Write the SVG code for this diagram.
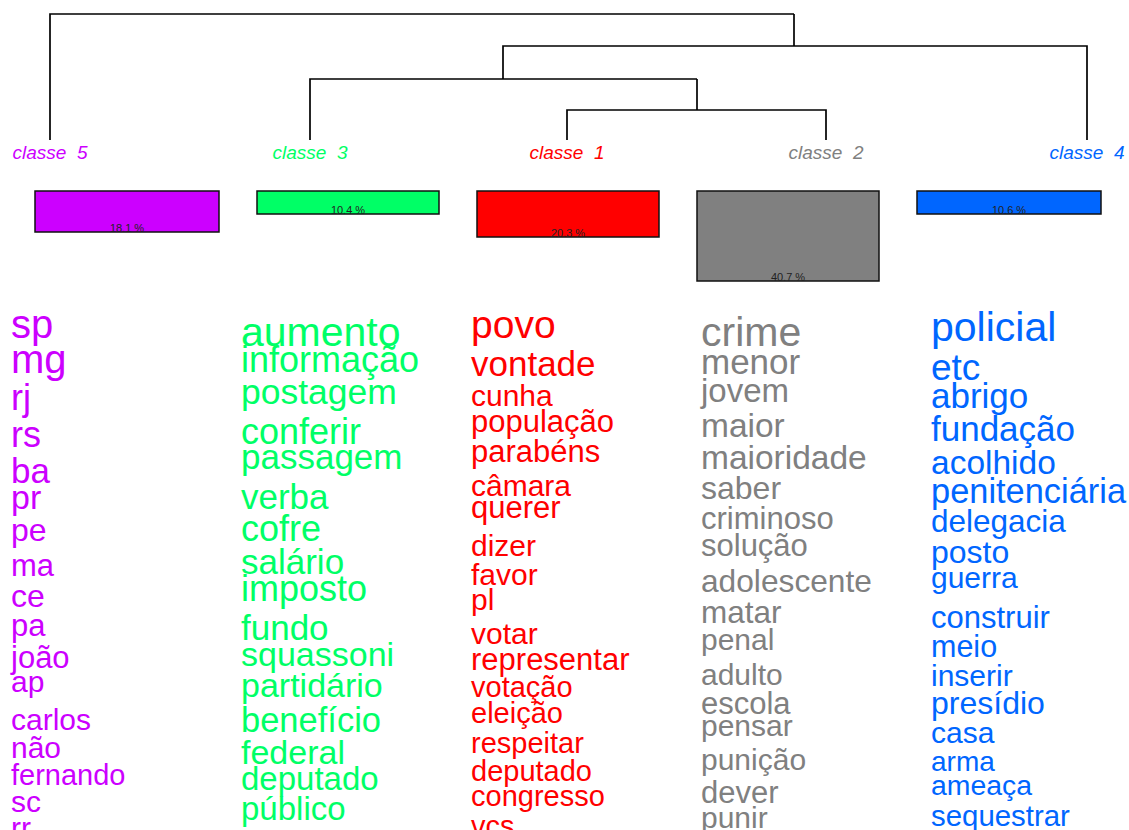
<svg xmlns="http://www.w3.org/2000/svg" width="1129" height="830" viewBox="0 0 1129 830">
<style>
text{font-family:"Liberation Sans",Arial,sans-serif}
.lbl{font-style:italic;font-size:19px;white-space:pre;text-anchor:middle}
.pct{font-size:11px;fill:#222;text-anchor:middle}
.bar{stroke:#111;stroke-width:1.5}
.c5{fill:#CC00FF}.c3{fill:#00FF66}.c1{fill:#FF0000}.c2{fill:#808080}.c4{fill:#0066FF}
.edge{fill:none;stroke:#000;stroke-width:1.7}
</style>
<rect width="1129" height="830" fill="#fff"/>
<g id="connectors">
<path class="edge" d="M50,140V14H794"/>
<path class="edge" d="M794,14V46"/>
<path class="edge" d="M503,79V46H1087V140"/>
<path class="edge" d="M310,140V79H697"/>
<path class="edge" d="M697,79V110"/>
<path class="edge" d="M567,140V110H826V140"/>
</g>
<g id="classe5">
<text class="lbl c5" x="50" y="159">classe  5</text>
<rect class="bar c5" x="35" y="191" width="184" height="41"/>
<text class="pct" x="127" y="232">18.1 %</text>
<g class="c5">
<text x="11" y="338" font-size="40">sp</text>
<text x="11" y="373" font-size="40">mg</text>
<text x="11" y="410" font-size="36">rj</text>
<text x="11" y="447" font-size="36">rs</text>
<text x="11" y="483" font-size="35">ba</text>
<text x="11" y="509" font-size="34">pr</text>
<text x="11" y="541" font-size="32">pe</text>
<text x="11" y="576" font-size="31">ma</text>
<text x="11" y="607" font-size="32">ce</text>
<text x="11" y="636" font-size="31">pa</text>
<text x="11" y="668" font-size="31">joão</text>
<text x="11" y="692" font-size="30">ap</text>
<text x="11" y="730" font-size="30">carlos</text>
<text x="11" y="758" font-size="30">não</text>
<text x="11" y="785" font-size="29">fernando</text>
<text x="11" y="812" font-size="30">sc</text>
<text x="11" y="838" font-size="30">rr</text>
</g>
</g>
<g id="classe3">
<text class="lbl c3" x="310" y="159">classe  3</text>
<rect class="bar c3" x="257" y="191" width="182" height="23"/>
<text class="pct" x="348" y="214">10.4 %</text>
<g class="c3">
<text x="241" y="346" font-size="41">aumento</text>
<text x="241" y="372" font-size="36">informação</text>
<text x="241" y="404" font-size="35.5">postagem</text>
<text x="241" y="444" font-size="36">conferir</text>
<text x="241" y="469" font-size="35">passagem</text>
<text x="241" y="509" font-size="35">verba</text>
<text x="241" y="541" font-size="36">cofre</text>
<text x="241" y="574" font-size="35">salário</text>
<text x="241" y="601" font-size="36">imposto</text>
<text x="241" y="640" font-size="35">fundo</text>
<text x="241" y="666" font-size="34">squassoni</text>
<text x="241" y="697" font-size="34">partidário</text>
<text x="241" y="732" font-size="34.5">benefício</text>
<text x="241" y="764" font-size="34">federal</text>
<text x="241" y="790" font-size="33">deputado</text>
<text x="241" y="820" font-size="33">público</text>
</g>
</g>
<g id="classe1">
<text class="lbl c1" x="567" y="159">classe  1</text>
<rect class="bar c1" x="477" y="191" width="182" height="46"/>
<text class="pct" x="568" y="237">20.3 %</text>
<g class="c1">
<text x="471" y="338" font-size="39">povo</text>
<text x="471" y="376" font-size="35">vontade</text>
<text x="471" y="406" font-size="30">cunha</text>
<text x="471" y="432" font-size="31">população</text>
<text x="471" y="462" font-size="31">parabéns</text>
<text x="471" y="496" font-size="30">câmara</text>
<text x="471" y="518" font-size="31">querer</text>
<text x="471" y="556" font-size="30">dizer</text>
<text x="471" y="585" font-size="30">favor</text>
<text x="471" y="610" font-size="30">pl</text>
<text x="471" y="644" font-size="30">votar</text>
<text x="471" y="670" font-size="31">representar</text>
<text x="471" y="697" font-size="29">votação</text>
<text x="471" y="723" font-size="29">eleição</text>
<text x="471" y="753" font-size="29">respeitar</text>
<text x="471" y="781" font-size="29">deputado</text>
<text x="471" y="806" font-size="29">congresso</text>
<text x="471" y="836" font-size="29">vcs</text>
</g>
</g>
<g id="classe2">
<text class="lbl c2" x="826" y="159">classe  2</text>
<rect class="bar c2" x="697" y="191" width="182" height="90"/>
<text class="pct" x="788" y="281">40.7 %</text>
<g class="c2">
<text x="701" y="346" font-size="41">crime</text>
<text x="701" y="374" font-size="35">menor</text>
<text x="701" y="402" font-size="33">jovem</text>
<text x="701" y="437" font-size="33.5">maior</text>
<text x="701" y="469" font-size="33.5">maioridade</text>
<text x="701" y="499" font-size="32">saber</text>
<text x="701" y="529" font-size="31">criminoso</text>
<text x="701" y="556" font-size="31">solução</text>
<text x="701" y="592" font-size="31.7">adolescente</text>
<text x="701" y="623" font-size="31.5">matar</text>
<text x="701" y="650" font-size="30">penal</text>
<text x="701" y="685" font-size="30">adulto</text>
<text x="701" y="714" font-size="31">escola</text>
<text x="701" y="736" font-size="30">pensar</text>
<text x="701" y="770" font-size="30">punição</text>
<text x="701" y="803" font-size="31">dever</text>
<text x="701" y="828" font-size="30">punir</text>
</g>
</g>
<g id="classe4">
<text class="lbl c4" x="1087" y="159">classe  4</text>
<rect class="bar c4" x="917" y="191" width="184" height="23"/>
<text class="pct" x="1009" y="214">10.6 %</text>
<g class="c4">
<text x="931" y="341" font-size="41">policial</text>
<text x="931" y="380" font-size="37">etc</text>
<text x="931" y="408" font-size="35">abrigo</text>
<text x="931" y="441" font-size="35">fundação</text>
<text x="931" y="474" font-size="33.5">acolhido</text>
<text x="931" y="503" font-size="34.4">penitenciária</text>
<text x="931" y="532" font-size="31.5">delegacia</text>
<text x="931" y="563" font-size="32">posto</text>
<text x="931" y="588" font-size="30">guerra</text>
<text x="931" y="628" font-size="31">construir</text>
<text x="931" y="657" font-size="30.5">meio</text>
<text x="931" y="686" font-size="30">inserir</text>
<text x="931" y="714" font-size="32">presídio</text>
<text x="931" y="743" font-size="30">casa</text>
<text x="931" y="771" font-size="28">arma</text>
<text x="931" y="795" font-size="28.4">ameaça</text>
<text x="931" y="826" font-size="29.4">sequestrar</text>
</g>
</g>
</svg>
